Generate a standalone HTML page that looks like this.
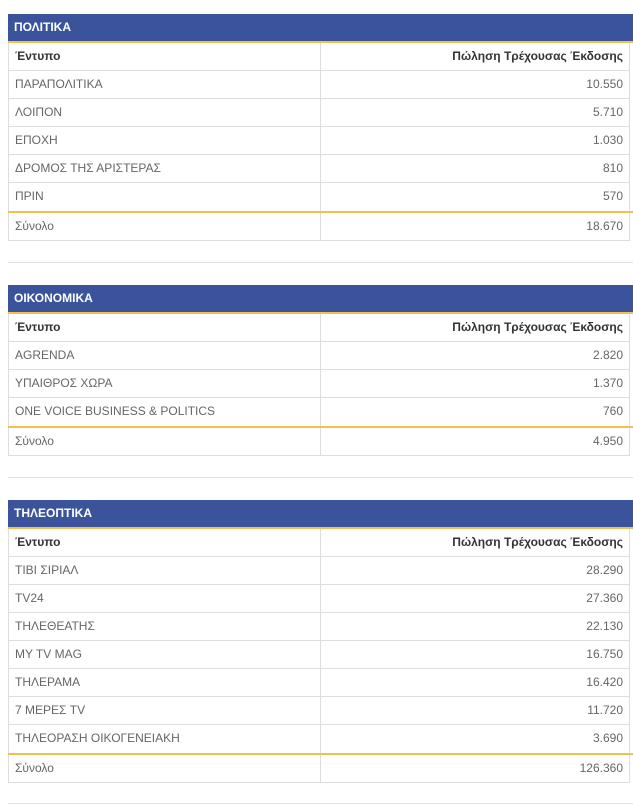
<!DOCTYPE html>
<html><head><meta charset="utf-8"><style>
body{margin:0;width:633px;height:806px;overflow:hidden;background:#fff;font-family:"Liberation Sans",sans-serif;font-size:12px;color:#666;position:relative}
.sec{position:absolute;left:8px;width:622px}
.t{height:27px;background:#3a539b;color:#fff;font-weight:bold;line-height:27px;padding-left:6px;border-bottom:2px solid #f0c24b;margin-right:-3px}
.r{height:27px;border:1px solid #ddd;border-top:none;display:flex;line-height:27px}
.r div{flex:0 0 311px;padding:0 6px;box-sizing:border-box}
.r div+div{border-left:1px solid #ddd;text-align:right;flex:1}
.h{color:#333;font-weight:bold}
.g{border-bottom:2px solid #f0c24b;margin-right:-3px;height:0}
.sep{position:absolute;left:8px;width:625px;height:1px;background:#e2e2e2}
</style></head><body>
<div class="sec" style="top:14px">
<div class="t">ΠΟΛΙΤΙΚΑ</div>
<div class="r h"><div>Έντυπο</div><div>Πώληση Τρέχουσας Έκδοσης</div></div>
<div class="r"><div>ΠΑΡΑΠΟΛΙΤΙΚΑ</div><div>10.550</div></div>
<div class="r"><div>ΛΟΙΠΟΝ</div><div>5.710</div></div>
<div class="r"><div>ΕΠΟΧΗ</div><div>1.030</div></div>
<div class="r"><div>ΔΡΟΜΟΣ ΤΗΣ ΑΡΙΣΤΕΡΑΣ</div><div>810</div></div>
<div class="r" style="border-bottom:none;height:28px"><div>ΠΡΙΝ</div><div>570</div></div>
<div class="g"></div>
<div class="r"><div>Σύνολο</div><div>18.670</div></div>
</div>
<div class="sep" style="top:262px"></div>
<div class="sec" style="top:285px">
<div class="t">ΟΙΚΟΝΟΜΙΚΑ</div>
<div class="r h"><div>Έντυπο</div><div>Πώληση Τρέχουσας Έκδοσης</div></div>
<div class="r"><div>AGRENDA</div><div>2.820</div></div>
<div class="r"><div>ΥΠΑΙΘΡΟΣ ΧΩΡΑ</div><div>1.370</div></div>
<div class="r" style="border-bottom:none;height:28px"><div>ONE VOICE BUSINESS &amp; POLITICS</div><div>760</div></div>
<div class="g"></div>
<div class="r"><div>Σύνολο</div><div>4.950</div></div>
</div>
<div class="sep" style="top:477px"></div>
<div class="sec" style="top:500px">
<div class="t">ΤΗΛΕΟΠΤΙΚΑ</div>
<div class="r h"><div>Έντυπο</div><div>Πώληση Τρέχουσας Έκδοσης</div></div>
<div class="r"><div>ΤΙΒΙ ΣΙΡΙΑΛ</div><div>28.290</div></div>
<div class="r"><div>TV24</div><div>27.360</div></div>
<div class="r"><div>ΤΗΛΕΘΕΑΤΗΣ</div><div>22.130</div></div>
<div class="r"><div>MY TV MAG</div><div>16.750</div></div>
<div class="r"><div>ΤΗΛΕΡΑΜΑ</div><div>16.420</div></div>
<div class="r"><div>7 ΜΕΡΕΣ TV</div><div>11.720</div></div>
<div class="r" style="border-bottom:none;height:28px"><div>ΤΗΛΕΟΡΑΣΗ ΟΙΚΟΓΕΝΕΙΑΚΗ</div><div>3.690</div></div>
<div class="g"></div>
<div class="r"><div>Σύνολο</div><div>126.360</div></div>
</div>
<div class="sep" style="top:803px"></div>
</body></html>
